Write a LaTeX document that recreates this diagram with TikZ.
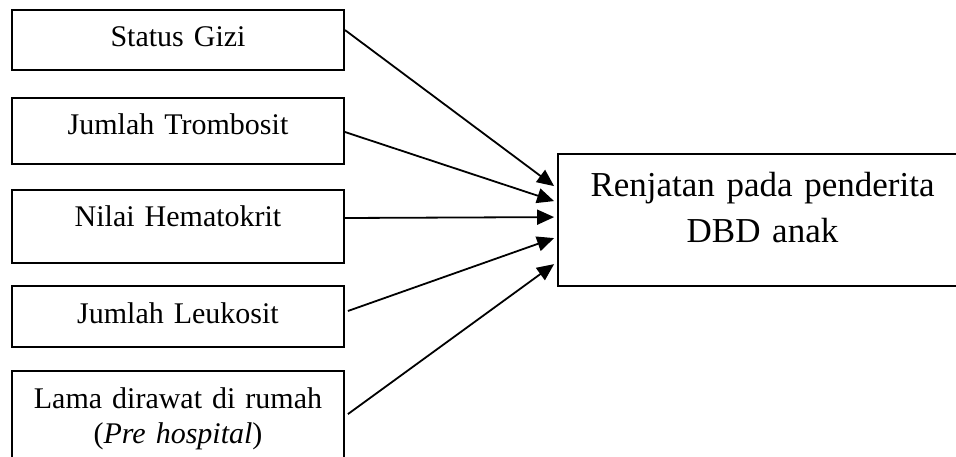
\documentclass[tikz,border=0pt]{standalone}
\usepackage{fontspec}
\setmainfont{Liberation Serif}
\usepackage{tikz}
\usetikzlibrary{arrows.meta,positioning}

\tikzset{
  factor/.style={draw, line width=1.8pt, inner sep=0pt, text width=332pt, align=center,
    text height=37pt, anchor=base, font=\fontsize{30pt}{35pt}\selectfont},
  result/.style={draw, line width=1.8pt, inner sep=0pt, text width=409pt, align=center,
    text height=43pt, text depth=89pt, anchor=base, font=\fontsize{35pt}{46pt}\selectfont},
  arr/.style={-{Triangle[length=17pt,width=15pt]}, line width=1.8pt}
}

\begin{document}
\begin{tikzpicture}[x=1pt, y=-1pt]
    \useasboundingbox (0,0) rectangle (956,457);

    % Left boxes
    \foreach \i/\y/\d/\txt in {1/47/23/{Status Gizi},
                               2/135/29/{Jumlah Trombosit},
                               3/227/36/{Nilai Hematokrit},
                               4/323/24/{Jumlah Leukosit},
                               5/408/70/{Lama dirawat di rumah\\(\textit{Pre hospital})}}
      \node[factor, text depth=\d pt] (f\i) at (178,\y) {\txt};

    % Right box
    \node[result] (r) at (762.5,197) {Renjatan pada penderita\\DBD anak};

    \draw[arr] ([yshift=10pt]f1.east) to ([xshift=-3pt,yshift=-33pt]r.north west);
    \draw[arr] ([yshift=-1pt]f2.east) to ([xshift=-3pt,yshift=-48pt]r.north west);
    \draw[arr] ([yshift=8.5pt]f3.east) to ([xshift=-3pt,yshift=-64pt]r.north west);
    \draw[arr] ([xshift=3pt,yshift=5.5pt]f4.east) to ([xshift=-3pt,yshift=-85pt]r.north west);
    \draw[arr] ([xshift=3pt,yshift=-44pt]f5.north east) to ([xshift=-3pt,yshift=-111pt]r.north west);
\end{tikzpicture}
\end{document}
